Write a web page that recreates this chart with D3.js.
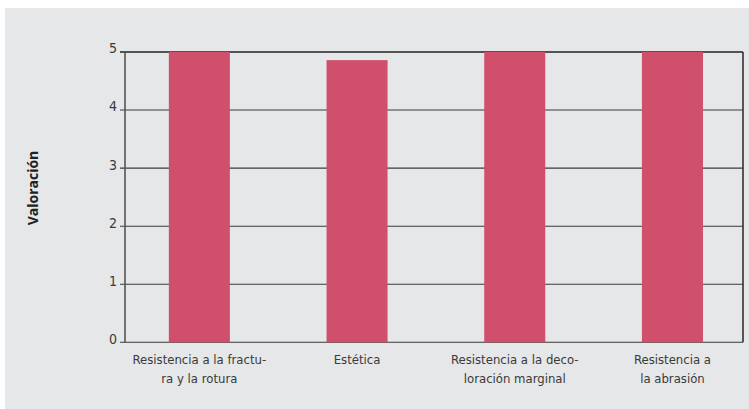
<!DOCTYPE html>
<html>
<head>
<meta charset="utf-8">
<title>Valoración</title>
<script src="https://cdn.jsdelivr.net/npm/d3@7"></script>
<style>
    body { margin: 0; background: #fff; }
    .lbl { font-family: "Liberation Sans Narrow", "DejaVu Sans Condensed", "Roboto", sans-serif; font-size: 13px; fill: #3a3a3a; }
    .ytitle { font-family: "Open Sans", "DejaVu Sans", sans-serif; font-size: 14px; font-weight: bold; fill: #222; }
</style>
</head>
<body>
<script>
// datos
var categories = [
    ["Resistencia a la fractu-", "ra y la rotura"],
    ["Estética"],
    ["Resistencia a la deco-", "loración marginal"],
    ["Resistencia a", "la abrasión"]
];
var values = [5, 4.86, 5, 5];
var yTicks = [0, 1, 2, 3, 4, 5];

var w = 749, h = 409;
var mLeft = 125, mRight = 743, mTop = 52, mBottom = 342.3;

var svg = d3.select("body").append("svg")
    .attr("width", w)
    .attr("height", h);

// fondo gris
svg.append("rect")
    .attr("x", 5).attr("y", 8)
    .attr("width", w - 5).attr("height", h - 8)
    .attr("fill", "#e6e7e8");

var x = d3.scaleBand()
    .domain(d3.range(categories.length))
    .range([120.5, 751.3])
    .paddingInner(0.613)
    .paddingOuter(0.3065);

var y = d3.scaleLinear()
    .domain([0, 5])
    .range([mBottom, mTop]);

// lineas de la rejilla
svg.append("g")
    .selectAll("line")
    .data(yTicks)
    .enter().append("line")
    .attr("x1", mLeft - 5).attr("x2", mRight)
    .attr("y1", function(d) { return y(d); })
    .attr("y2", function(d) { return y(d); })
    .attr("stroke", function(d) { return d == 5 ? "#222" : "#3a3a3a"; })
    .attr("stroke-width", function(d) { return d == 5 ? 1.6 : 1.1; });

// barras
svg.append("g")
    .selectAll("rect")
    .data(values)
    .enter().append("rect")
    .attr("x", function(d, i) { return x(i); })
    .attr("y", function(d) { return y(d); })
    .attr("width", x.bandwidth())
    .attr("height", function(d) { return y(0) - y(d); })
    .attr("fill", "#d04f6b");

// ejes verticales
svg.append("line")
    .attr("x1", mLeft).attr("x2", mLeft)
    .attr("y1", mTop).attr("y2", mBottom)
    .attr("stroke", "#555").attr("stroke-width", 1.6);
svg.append("line")
    .attr("x1", mRight).attr("x2", mRight)
    .attr("y1", mTop).attr("y2", mBottom)
    .attr("stroke", "#333").attr("stroke-width", 1.6);

// etiquetas del eje y
svg.append("g")
    .selectAll("text")
    .data(yTicks)
    .enter().append("text")
    .attr("class", "lbl")
    .style("font-size", "14px")
    .attr("x", mLeft - 8)
    .attr("y", function(d) { return y(d); })
    .attr("dy", "0.1em")
    .attr("text-anchor", "end")
    .text(function(d) { return d; });

// etiquetas de categorias
var cat = svg.append("g")
    .selectAll("text")
    .data(categories)
    .enter().append("text")
    .attr("class", "lbl")
    .attr("text-anchor", "middle")
    .attr("x", function(d, i) { return x(i) + x.bandwidth() / 2; })
    .attr("y", 364);
cat.selectAll("tspan")
    .data(function(d) { return d; })
    .enter().append("tspan")
    .attr("x", function() { return d3.select(this.parentNode).attr("x"); })
    .attr("dy", function(d, i) { return i == 0 ? 0 : 19; })
    .text(function(d) { return d; });

// titulo eje y
svg.append("text")
    .attr("class", "ytitle")
    .attr("transform", "translate(38,188) rotate(-90)")
    .attr("text-anchor", "middle")
    .text("Valoración");
</script>
</body>
</html>
